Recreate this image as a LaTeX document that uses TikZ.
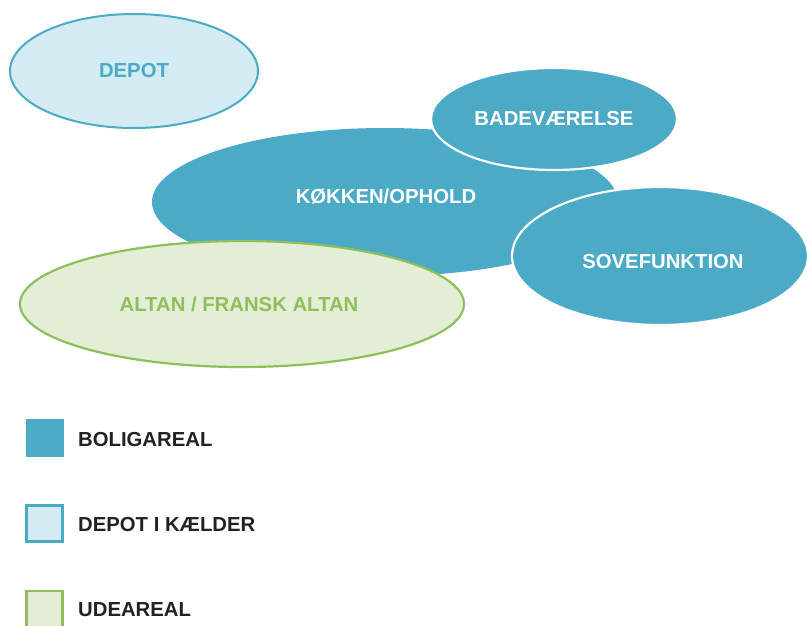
\documentclass[tikz,border=0pt]{standalone}
\usepackage{fontspec}
\setmainfont{Liberation Sans}
\usetikzlibrary{shapes.geometric}
\definecolor{mainblue}{HTML}{4BAAC6}
\definecolor{lightblue}{HTML}{D4EBF3}
\definecolor{greenfill}{HTML}{E4EDD5}
\definecolor{greenline}{HTML}{8FBF5A}
\definecolor{legendtext}{HTML}{222222}
\tikzset{
  roomfont/.style={font=\fontsize{20.3}{24}\selectfont\bfseries},
  room/.style={ellipse, inner sep=0pt, roomfont},
  living/.style={room, fill=mainblue, draw=white, line width=2.2pt, text=white},
  storage/.style={room, fill=lightblue, draw=mainblue, line width=2pt, text=mainblue},
  outdoor/.style={room, fill=greenfill, draw=greenline, line width=2.2pt, text=greenline},
  legbox/.style={minimum size=38pt, inner sep=0pt},
  legtext/.style={anchor=west, inner sep=0pt, text=legendtext, roomfont},
}
\begin{document}
\begin{tikzpicture}[x=1pt,y=-1pt]
\useasboundingbox (0,0) rectangle (807,625);
\fill[white] (0,0) rectangle (807,625);
% storage
\node[storage, minimum width=248pt, minimum height=114pt] (depot) at (134,71) {DEPOT};
% living
\node[living, draw=none, minimum width=466pt, minimum height=148pt] (kok) at (385,202) {};
\node[text=white, roomfont] (koktxt) at (386,197) {KØKKEN/OPHOLD};
\node[living, minimum width=246pt, minimum height=102pt] (bad) at (554,119) {BADEVÆRELSE};
\node[living, minimum width=296pt, minimum height=138pt] (sove) at (660,256) {};
\node[text=white, roomfont] (sovetxt) at (663,262) {SOVEFUNKTION};
% outdoor
\node[outdoor, minimum width=444pt, minimum height=126pt] (altan) at (242,304) {};
\node[text=greenline, roomfont] (altantxt) at (239,304) {ALTAN / FRANSK ALTAN};
% legend
\node[legbox, fill=mainblue] (lb1) at (44.5,437.5) {};
\node[legtext] (lt1) at (78,440) {BOLIGAREAL};
\node[legbox, fill=lightblue, draw=mainblue, line width=2.5pt, minimum size=36pt] (lb2) at (44.5,523.5) {};
\node[legtext] (lt2) at (78,525) {DEPOT I KÆLDER};
\node[legbox, fill=greenfill, draw=greenline, line width=2.5pt, minimum size=36pt] (lb3) at (44.5,609) {};
\node[legtext] (lt3) at (78,610) {UDEAREAL};
\end{tikzpicture}
\end{document}
